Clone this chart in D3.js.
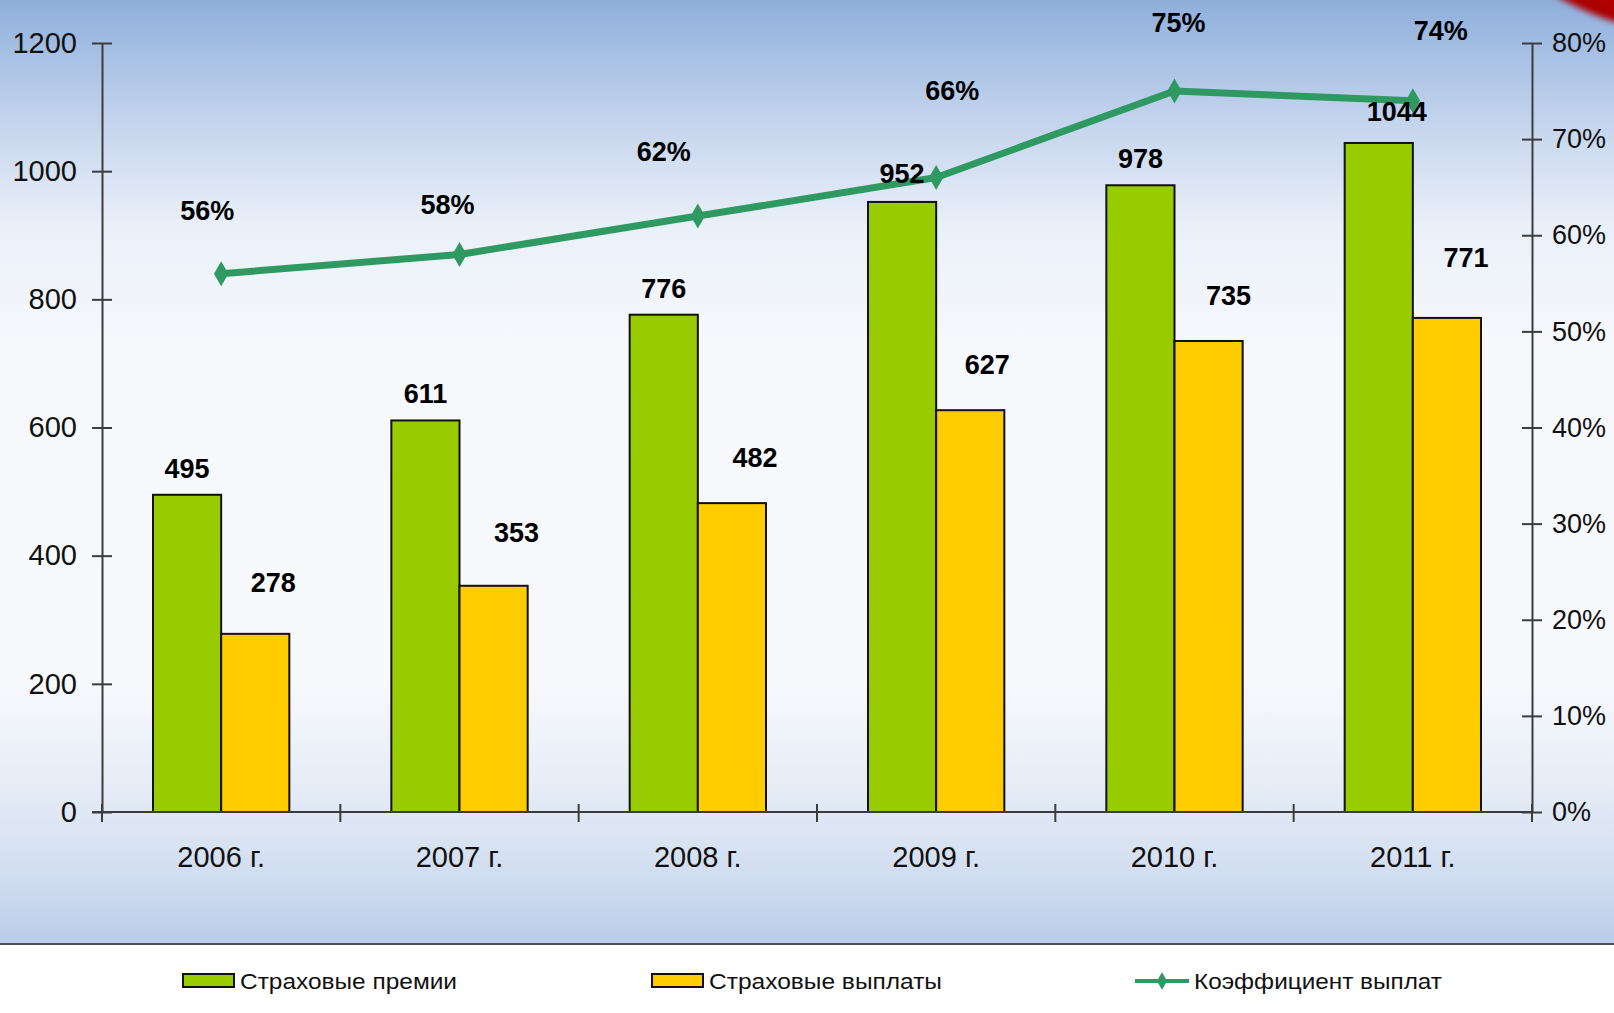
<!DOCTYPE html>
<html>
<head>
<meta charset="utf-8">
<script src="https://cdn.jsdelivr.net/npm/d3@7"></script>
<style>
  html, body { margin: 0; padding: 0; background: #ffffff; }
  svg { display: block; }
</style>
</head>
<body>
<svg id="chart" width="1614" height="1013"></svg>
<script>
// Years, series and axis ticks
const years = ["2006 г.", "2007 г.", "2008 г.", "2009 г.", "2010 г.", "2011 г."];
const premiums = [495, 611, 776, 952, 978, 1044];
const payouts = [278, 353, 482, 627, 735, 771];
const payoutRatio = [56, 58, 62, 66, 75, 74];
const leftTicks = [0, 200, 400, 600, 800, 1000, 1200];
const rightTicks = [0, 10, 20, 30, 40, 50, 60, 70, 80];
const seriesNames = ["Страховые премии", "Страховые выплаты", "Коэффициент выплат"];

const W = 1614, H = 1013;
const svg = d3.select("#chart");
const defs = svg.append("defs");

// Backdrop: blue at the top, white in the middle, light blue at the bottom band
const bg = defs.append("linearGradient").attr("id", "bg")
  .attr("x1", 0).attr("y1", 0).attr("x2", 0).attr("y2", 1);
[[0, "#8eaedb"], [0.05, "#a4bee3"], [0.14, "#c8d7ee"], [0.24, "#eaf0f9"],
 [0.36, "#f6f8fc"], [0.72, "#f8f9fd"], [0.83, "#e6edf7"], [0.93, "#d0ddf0"], [1, "#b9cce8"]]
  .forEach(([o, c]) => bg.append("stop").attr("offset", o).attr("stop-color", c));
svg.append("rect").attr("x", 0).attr("y", 0).attr("width", W).attr("height", 944)
  .attr("fill", "url(#bg)");
svg.append("line").attr("x1", 0).attr("x2", W).attr("y1", 944).attr("y2", 944)
  .attr("stroke", "#4a4f58").attr("stroke-width", 2);

// Red accent in the top-right corner
const blur = defs.append("filter").attr("id", "soft").attr("x", "-50%").attr("y", "-50%")
  .attr("width", "200%").attr("height", "200%");
blur.append("feGaussianBlur").attr("stdDeviation", 3);
const redG = defs.append("radialGradient").attr("id", "redg");
redG.append("stop").attr("offset", 0.8).attr("stop-color", "#c40000");
redG.append("stop").attr("offset", 1).attr("stop-color", "#a80000");
svg.append("circle").attr("cx", 1700).attr("cy", -250).attr("r", 285)
  .attr("fill", "url(#redg)").attr("filter", "url(#soft)");

// Plot area
const x0 = 102, x1 = 1532, yTop = 43, yBot = 812;
const x = d3.scaleBand().domain(years).range([x0, x1]).paddingInner(0).paddingOuter(0);
const y = d3.scaleLinear().domain([0, 1200]).range([yBot, yTop]);
const yR = d3.scaleLinear().domain([0, 80]).range([yBot, yTop]);
const barW = x.bandwidth() * 0.286;

const axisColor = "#3c3c3c";
const tickFont = "'Liberation Sans', Arial, sans-serif";

// Bars
const gBars = svg.append("g");
gBars.selectAll("rect.prem").data(premiums).join("rect")
  .attr("class", "prem")
  .attr("x", (d, i) => x(years[i]) + x.bandwidth() / 2 - barW)
  .attr("y", d => y(d)).attr("width", barW).attr("height", d => yBot - y(d))
  .attr("fill", "#99cc00").attr("stroke", "#111").attr("stroke-width", 2);
gBars.selectAll("rect.pay").data(payouts).join("rect")
  .attr("class", "pay")
  .attr("x", (d, i) => x(years[i]) + x.bandwidth() / 2)
  .attr("y", d => y(d)).attr("width", barW).attr("height", d => yBot - y(d))
  .attr("fill", "#ffcc00").attr("stroke", "#111").attr("stroke-width", 2);

// Left axis
const leftAxis = svg.append("g").attr("transform", `translate(${x0},0)`)
  .call(d3.axisLeft(y).tickValues(leftTicks).tickSizeInner(10).tickSizeOuter(0)
    .tickPadding(15).tickFormat(d3.format("d")));
// Right axis
const rightAxis = svg.append("g").attr("transform", `translate(${x1},0)`)
  .call(d3.axisRight(yR).tickValues(rightTicks).tickSizeInner(10).tickSizeOuter(0)
    .tickPadding(10).tickFormat(d => d + "%"));
[leftAxis, rightAxis].forEach(a => {
  a.select(".domain").attr("stroke", axisColor).attr("stroke-width", 2);
  a.selectAll(".tick line").attr("stroke", axisColor).attr("stroke-width", 2);
  a.selectAll(".tick text").attr("fill", "#111").style("font-family", tickFont);
});
leftAxis.selectAll(".tick text").style("font-size", "29px");
rightAxis.selectAll(".tick text").style("font-size", "27px");
// Centre the tick marks across each axis line
leftAxis.selectAll(".tick line").attr("x1", 10).attr("x2", -10);
rightAxis.selectAll(".tick line").attr("x1", -10).attr("x2", 10);

// Bottom axis with boundary ticks between years
const bottom = svg.append("g");
bottom.append("line").attr("x1", x0 - 10).attr("x2", x1).attr("y1", yBot).attr("y2", yBot)
  .attr("stroke", axisColor).attr("stroke-width", 2);
const bounds = d3.range(years.length + 1).map(i => x0 + i * x.bandwidth());
bottom.selectAll("line.b").data(bounds).join("line").attr("class", "b")
  .attr("x1", d => d).attr("x2", d => d).attr("y1", yBot - 8).attr("y2", yBot + 10)
  .attr("stroke", axisColor).attr("stroke-width", 2);
bottom.selectAll("text").data(years).join("text")
  .attr("x", d => x(d) + x.bandwidth() / 2).attr("y", 867)
  .attr("text-anchor", "middle").attr("fill", "#111")
  .style("font-family", tickFont).style("font-size", "29px")
  .text(d => d);

// Payout ratio line
const lineColor = "#2e9a62";
const cx = i => x(years[i]) + x.bandwidth() / 2;
const line = d3.line().x((d, i) => cx(i)).y(d => yR(d));
svg.append("path").datum(payoutRatio).attr("d", line)
  .attr("fill", "none").attr("stroke", lineColor).attr("stroke-width", 7)
  .attr("stroke-linejoin", "round");
const diamond = d3.symbol().type(d3.symbolDiamond).size(180);
svg.selectAll("path.mk").data(payoutRatio).join("path").attr("class", "mk")
  .attr("d", diamond).attr("transform", (d, i) => `translate(${cx(i)},${yR(d)})`)
  .attr("fill", lineColor);

// Value labels
const labelFont = "'Liberation Sans', Arial, sans-serif";
const premLabelShift = [[0, -26], [0, -26], [0, -26], [0, -28], [0, -26], [18, -31]];
const payLabelShift = [[18, -51], [23, -53], [23, -45], [17, -45], [20, -45], [19, -60]];
const pctLabelShift = [[-14, -63], [-12, -49], [-34, -64], [16, -87], [4, -68], [28, -70]];

function labels(data, fx, fy, shifts, fmt) {
  svg.append("g").selectAll("text").data(data).join("text")
    .attr("x", (d, i) => fx(d, i) + shifts[i][0])
    .attr("y", (d, i) => fy(d, i) + shifts[i][1])
    .attr("text-anchor", "middle").attr("dominant-baseline", "central")
    .attr("fill", "#000").style("font-family", labelFont)
    .style("font-size", "27px").style("font-weight", "bold")
    .text(fmt);
}
labels(premiums, (d, i) => cx(i) - barW / 2, d => y(d), premLabelShift, d => d);
labels(payouts, (d, i) => cx(i) + barW / 2, d => y(d), payLabelShift, d => d);
labels(payoutRatio, (d, i) => cx(i), d => yR(d), pctLabelShift, d => d + "%");

// Legend
const legend = svg.append("g").style("font-family", labelFont).style("font-size", "22px");
const legItems = [
  { x: 183, tx: 240, len: 217, kind: "bar", fill: "#99cc00" },
  { x: 652, tx: 709, len: 233, kind: "bar", fill: "#ffcc00" },
  { x: 1135, tx: 1194, len: 248, kind: "line", fill: lineColor }
];
legItems.forEach((it, i) => {
  const ly = 981;
  if (it.kind === "bar") {
    legend.append("rect").attr("x", it.x).attr("y", ly - 7).attr("width", 51).attr("height", 13)
      .attr("fill", it.fill).attr("stroke", "#111").attr("stroke-width", 2);
  } else {
    legend.append("line").attr("x1", it.x).attr("x2", it.x + 54).attr("y1", ly).attr("y2", ly)
      .attr("stroke", it.fill).attr("stroke-width", 4);
    legend.append("path").attr("d", d3.symbol().type(d3.symbolDiamond).size(90))
      .attr("transform", `translate(${it.x + 27},${ly})`).attr("fill", it.fill);
  }
  legend.append("text").attr("x", it.tx).attr("y", ly).attr("dominant-baseline", "central")
    .attr("fill", "#111").attr("textLength", it.len).attr("lengthAdjust", "spacingAndGlyphs")
    .text(seriesNames[i]);
});
</script>
</body>
</html>
